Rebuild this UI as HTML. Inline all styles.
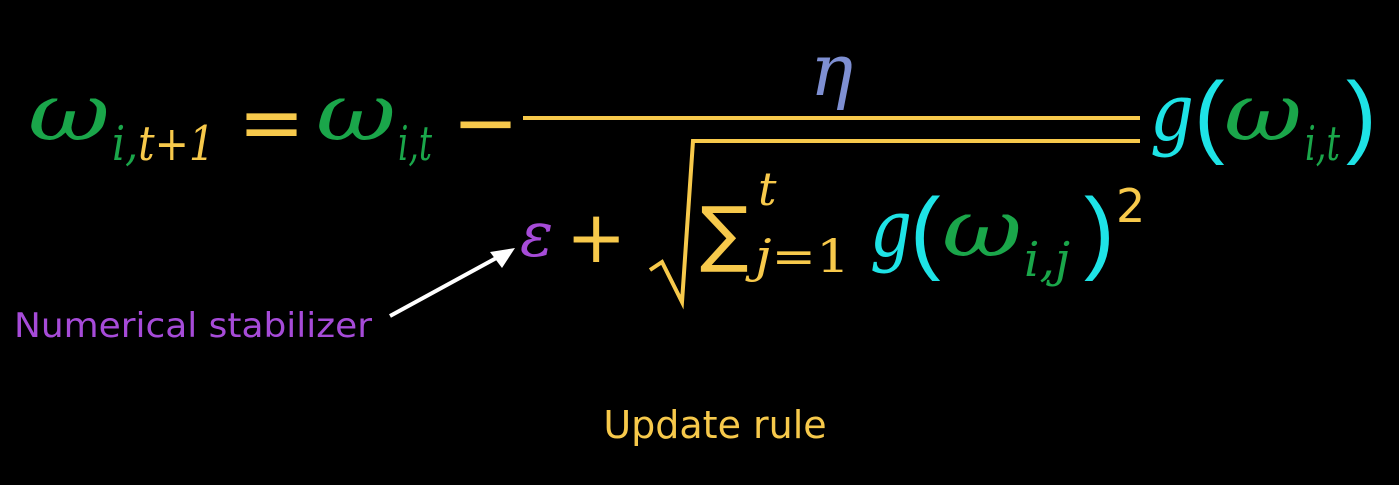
<!DOCTYPE html>
<html><head><meta charset="utf-8"><style>
html,body{margin:0;padding:0;background:#000;width:1399px;height:485px;overflow:hidden}
svg{display:block}
.m{font-family:"DejaVu Serif","Liberation Serif",serif;font-style:italic}
.r{font-family:"DejaVu Sans","Liberation Sans",sans-serif}
.p{font-family:"Liberation Sans",sans-serif}
</style></head><body>
<svg width="1399" height="485" viewBox="0 0 1399 485">
<text x="28" y="140" font-size="80" fill="#1aa64a" class="m" textLength="82" lengthAdjust="spacingAndGlyphs">ω</text>
<text x="112" y="160" font-size="48" class="m" textLength="103" lengthAdjust="spacingAndGlyphs"><tspan fill="#1aa64a">i,</tspan><tspan fill="#f7c94b">t+1</tspan></text>
<text x="238" y="150" font-size="80" fill="#f7c94b" class="r">=</text>
<text x="316" y="140" font-size="80" fill="#1aa64a" class="m" textLength="80" lengthAdjust="spacingAndGlyphs">ω</text>
<text x="398" y="160" font-size="48" fill="#1aa64a" class="m" textLength="34" lengthAdjust="spacingAndGlyphs">i,t</text>
<text x="452" y="150" font-size="80" fill="#f7c94b" class="r">−</text>
<rect x="523" y="116" width="617" height="4" fill="#f7c94b"/>
<text x="810" y="95" font-size="72" fill="#7e8fd2" class="m">η</text>
<text x="520" y="256" font-size="62" fill="#a64bd8" class="m">ε</text>
<text x="566" y="262" font-size="72" fill="#f7c94b" class="r">+</text>
<polyline points="650,270 662,262 682,302 693,141 1140,141" fill="none" stroke="#f7c94b" stroke-width="4"/>
<text x="700" y="258" font-size="72" fill="#f7c94b" class="r">∑</text>
<text x="758" y="205" font-size="46" fill="#f7c94b" class="m">t</text>
<text x="755" y="272" font-size="46" fill="#f7c94b" class="m" textLength="95" lengthAdjust="spacingAndGlyphs">j<tspan font-style="normal">=1</tspan></text>
<text x="870" y="256" font-size="80" fill="#1ee3e6" class="m" textLength="42" lengthAdjust="spacingAndGlyphs">g</text>
<text x="910" y="262" font-size="92" fill="#1ee3e6" class="p">(</text>
<text x="942" y="256" font-size="80" fill="#1aa64a" class="m" textLength="80" lengthAdjust="spacingAndGlyphs">ω</text>
<text x="1024" y="276" font-size="48" fill="#1aa64a" class="m" textLength="46" lengthAdjust="spacingAndGlyphs">i,j</text>
<text x="1084" y="262" font-size="92" fill="#1ee3e6" class="p">)</text>
<text x="1116" y="222" font-size="46" fill="#f7c94b" class="r">2</text>
<text x="1150" y="140" font-size="80" fill="#1ee3e6" class="m" textLength="44" lengthAdjust="spacingAndGlyphs">g</text>
<text x="1194" y="146" font-size="92" fill="#1ee3e6" class="p">(</text>
<text x="1224" y="140" font-size="80" fill="#1aa64a" class="m" textLength="78" lengthAdjust="spacingAndGlyphs">ω</text>
<text x="1305" y="160" font-size="48" fill="#1aa64a" class="m" textLength="35" lengthAdjust="spacingAndGlyphs">i,t</text>
<text x="1346" y="146" font-size="92" fill="#1ee3e6" class="p">)</text>
<text x="14" y="337" font-size="34" fill="#a64bd8" class="r" textLength="358" lengthAdjust="spacingAndGlyphs">Numerical stabilizer</text>
<line x1="390" y1="316" x2="500" y2="256" stroke="#fff" stroke-width="4"/>
<polygon points="515,248 490,252 502,268" fill="#fff"/>
<text x="715" y="438" font-size="38" fill="#f7c94b" class="r" text-anchor="middle">Update rule</text>
</svg>
</body></html>
